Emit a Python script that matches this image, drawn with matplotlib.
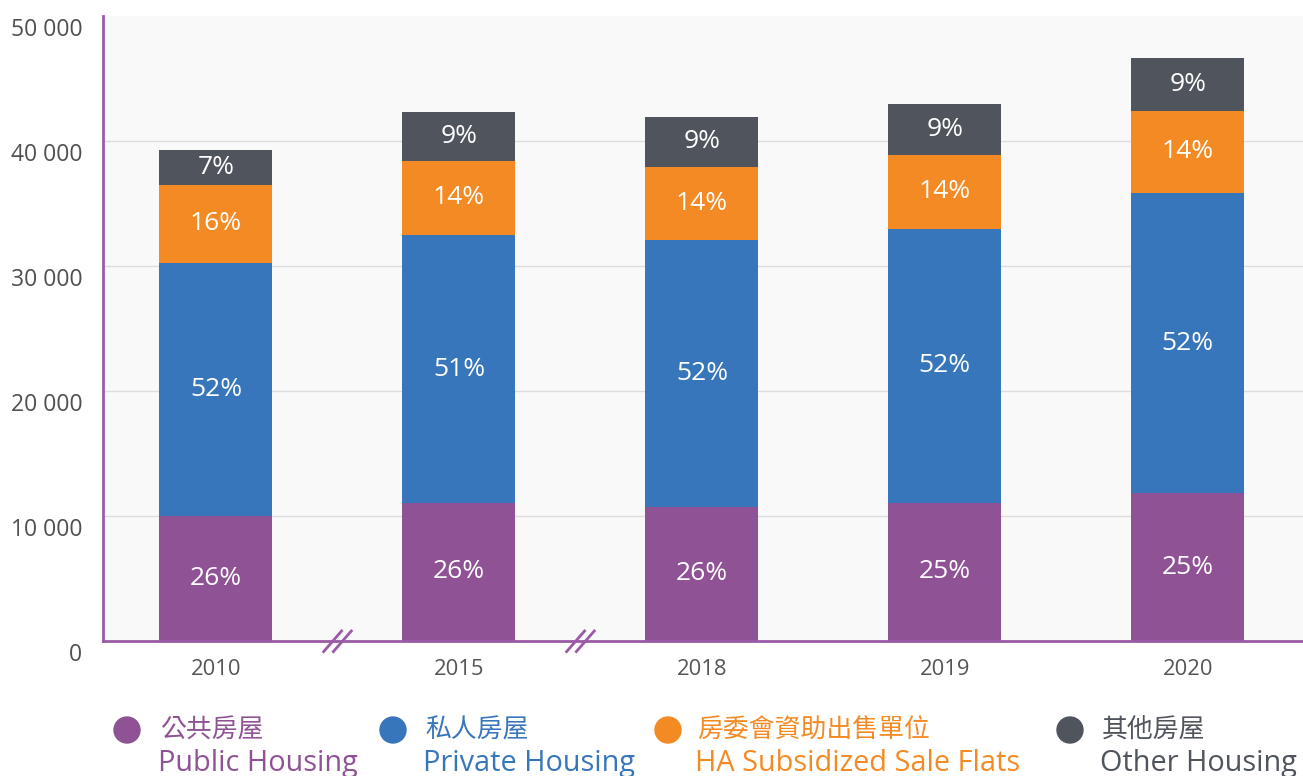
import matplotlib.pyplot as plt
import matplotlib.transforms as mtransforms
from matplotlib.patches import Circle
import numpy as np

# --- data (persons) ---
years = ["2010", "2015", "2018", "2019", "2020"]
public = [10000, 11040, 10720, 11040, 11840]
private = [20240, 21440, 21360, 21920, 24000]
ha_flats = [6240, 5920, 5840, 5920, 6560]
other = [2800, 3920, 4000, 4080, 4240]

public_pct = ["26%", "26%", "26%", "25%", "25%"]
private_pct = ["52%", "51%", "52%", "52%", "52%"]
ha_pct = ["16%", "14%", "14%", "14%", "14%"]
other_pct = ["7%", "9%", "9%", "9%", "9%"]

names_zh = ["公共房屋", "私人房屋", "房委會資助出售單位", "其他房屋"]
names_en = ["Public Housing", "Private Housing", "HA Subsidized Sale Flats", "Other Housing"]
yticks = [0, 10000, 20000, 30000, 40000, 50000]
ytick_labels = ["0", "10 000", "20 000", "30 000", "40 000", "50 000"]

colors = ["#8e5295", "#3876bb", "#f38a24", "#50545d"]
axis_purple = "#9b5aa6"

plt.rcParams['font.family'] = ['Open Sans', 'DejaVu Sans']

W, H = 1303, 776
fig = plt.figure(figsize=(W / 100, H / 100), dpi=100)
ax = fig.add_axes([103 / W, 1 - 641 / H, 1200 / W, 625 / H])
ax.set_facecolor("#f9f9f9")

x = np.arange(len(years))
width = 0.465
series = [public, private, ha_flats, other]
pcts = [public_pct, private_pct, ha_pct, other_pct]
bottom = np.zeros(len(years))
for vals, labs, col in zip(series, pcts, colors):
    vals = np.array(vals)
    ax.bar(x, vals, width, bottom=bottom, color=col, zorder=3)
    for xi, b, v, lab in zip(x, bottom, vals, labs):
        ax.text(xi, b + v / 2, lab, ha="center", va="center", color="white",
                fontsize=19, zorder=4)
    bottom += vals

ax.set_xlim(-0.465, 4.474)
ax.set_ylim(0, 50000)
ax.set_yticks(yticks)
ax.set_yticklabels(ytick_labels)
ax.set_xticks(x)
ax.set_xticklabels(years)
ax.tick_params(axis="y", length=0, pad=15, labelsize=16.5, labelcolor="#505050")
ax.tick_params(axis="x", length=0, pad=13, labelsize=15.8, labelcolor="#555555")
for lab in ax.get_yticklabels():
    lab.set_transform(lab.get_transform() +
                      mtransforms.ScaledTranslation(0, -11 / 100, fig.dpi_scale_trans))

ax.grid(axis="y", color="#dddddd", linewidth=1, zorder=0)
ax.yaxis.get_gridlines()[-1].set_visible(False)
for s in ["top", "right"]:
    ax.spines[s].set_visible(False)
for s in ["left", "bottom"]:
    ax.spines[s].set_color(axis_purple)
    ax.spines[s].set_linewidth(2)
    ax.spines[s].set_zorder(5)

# axis break marks between 2010/2015 and 2015/2018
trans = ax.get_xaxis_transform()
for xb in [0.5, 1.5]:
    for off in [-0.02, 0.02]:
        ax.plot([xb + off - 0.037, xb + off + 0.037], [-0.017, 0.016],
                color=axis_purple, lw=2, transform=trans, clip_on=False, zorder=6)

# legend drawn by hand
leg_x = [127, 393, 668, 1070]
text_x = [160, 425, 697, 1102]
for cx, tx, zh, en, col in zip(leg_x, text_x, names_zh, names_en, colors):
    fig.add_artist(Circle((cx / 100, (H - 730) / 100), 0.13, color=col,
                          transform=fig.dpi_scale_trans))
    fig.text(tx / W, 1 - 730 / H, zh, family=['Noto Sans CJK TC', 'DejaVu Sans'],
             fontsize=18.6, fontweight="medium", color=col, ha="left", va="center")
    fig.text((tx - 2) / W, 1 - 771 / H, en, fontsize=20.8, color=col,
             ha="left", va="baseline")

fig.savefig("out.png", dpi=100)
